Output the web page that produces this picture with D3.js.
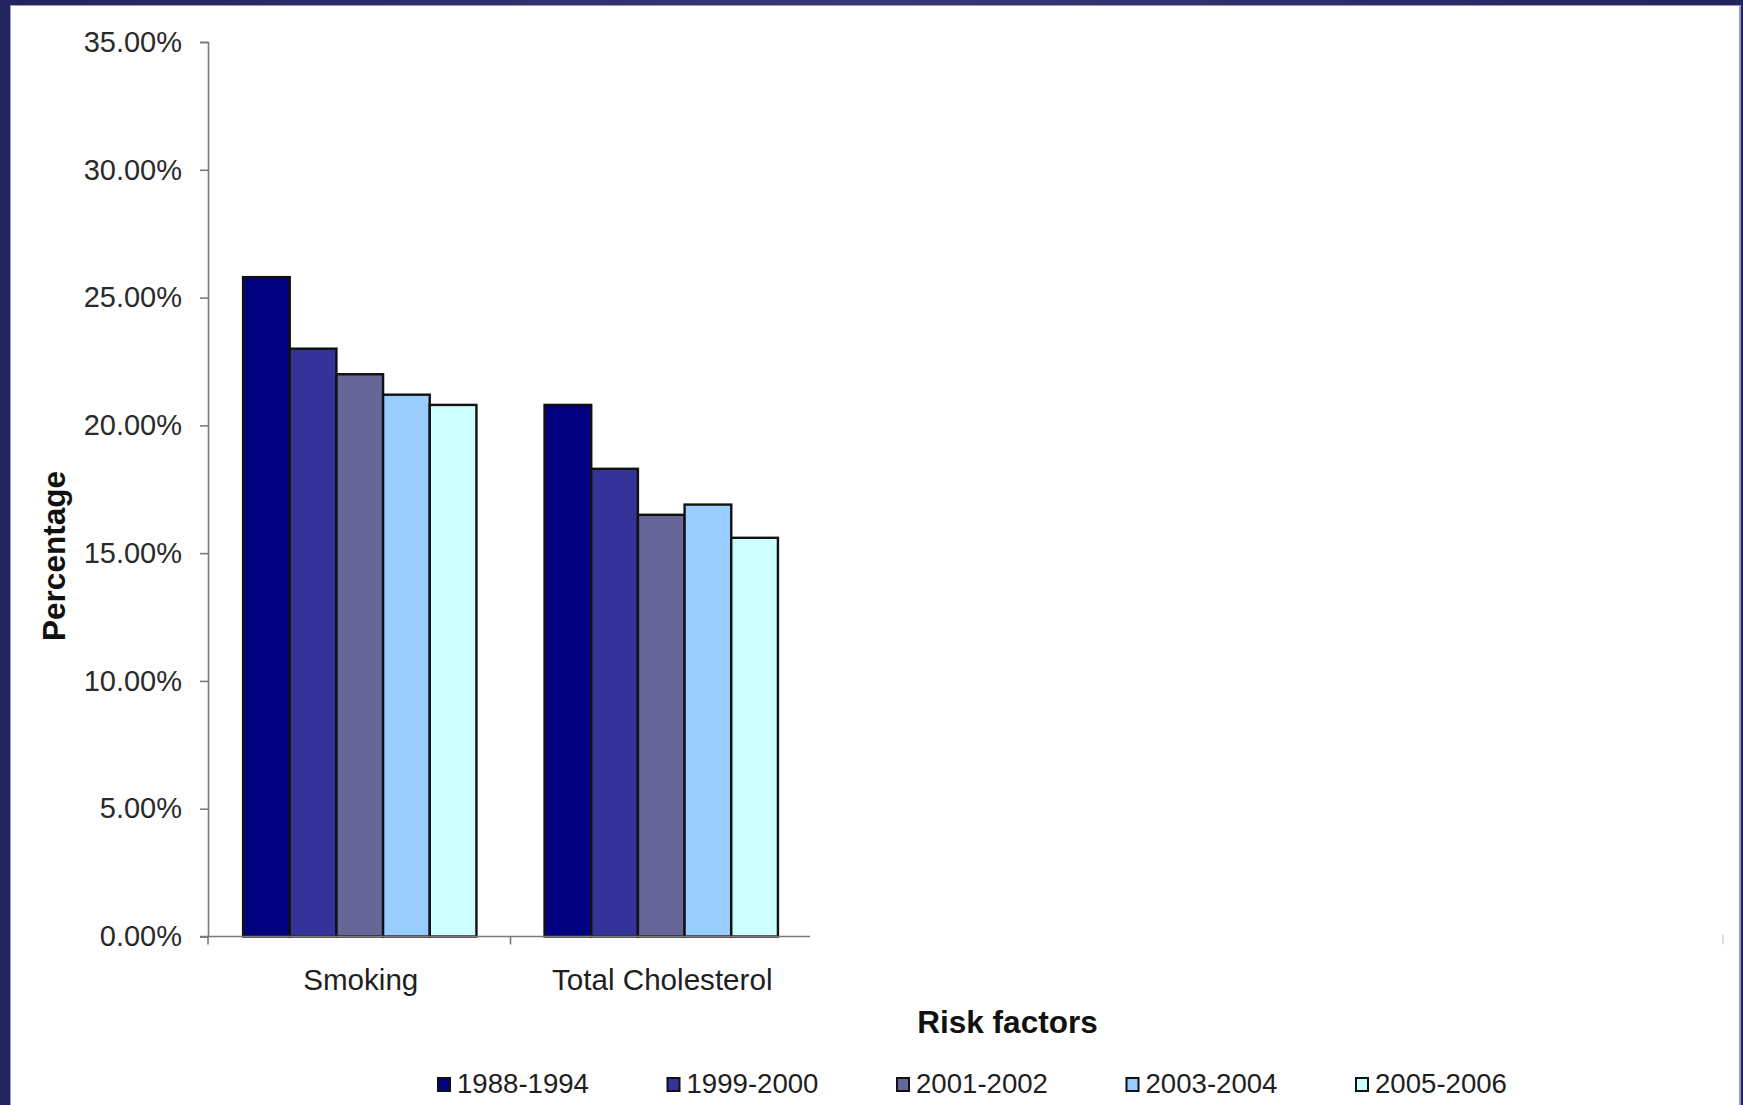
<!DOCTYPE html>
<html>
<head>
<meta charset="utf-8">
<title>Risk factors by period</title>
<script src="https://cdn.jsdelivr.net/npm/d3@7"></script>
<style>
  html, body { margin: 0; padding: 0; background: #ffffff; }
  svg { display: block; font-family: "Liberation Sans", Arial, sans-serif; }
</style>
</head>
<body>
<svg id="chart" width="1743" height="1105"></svg>
<script>
// Prevalence of risk factors (%) by survey period
const categories = ["Smoking", "Total Cholesterol"];
const periods = ["1988-1994", "1999-2000", "2001-2002", "2003-2004", "2005-2006"];
const smoking = [25.8, 23.0, 22.0, 21.2, 20.8];
const cholesterol = [20.8, 18.3, 16.5, 16.9, 15.6];
const yTicks = [0, 5, 10, 15, 20, 25, 30, 35];
const periodColors = ["#000080", "#333399", "#666699", "#99ccff", "#ccffff"];

const valuesByCategory = [smoking, cholesterol];
const rows = categories.map((c, i) => ({
  category: c,
  values: periods.map((p, j) => ({ period: p, value: valuesByCategory[i][j] }))
}));

const W = 1743, H = 1105;
const svg = d3.select("#chart");

// Slide frame: dark navy edges around a white panel
const defs = svg.append("defs");
const grad = defs.append("linearGradient").attr("id", "frameGrad")
  .attr("x1", "0").attr("y1", "0").attr("x2", "1").attr("y2", "0");
grad.append("stop").attr("offset", "0").attr("stop-color", "#23235f");
grad.append("stop").attr("offset", "0.5").attr("stop-color", "#35397a");
grad.append("stop").attr("offset", "1").attr("stop-color", "#22245e");
svg.append("rect").attr("x", 0).attr("y", 0).attr("width", W).attr("height", H)
  .attr("fill", "url(#frameGrad)");
svg.append("rect").attr("x", 10).attr("y", 5).attr("width", 1731).attr("height", H)
  .attr("fill", "#9a9ac6");
svg.append("rect").attr("x", 11).attr("y", 6).attr("width", 1728).attr("height", H)
  .attr("fill", "#ffffff");

// Plot geometry
const plot = { left: 208, right: 810, top: 42, bottom: 936.5 };

const y = d3.scaleLinear().domain([0, 35]).range([plot.bottom, plot.top]);
const x0 = d3.scaleBand().domain(categories).range([plot.left + 1, plot.right + 2])
  .paddingInner(0).paddingOuter(0);
const x1 = d3.scaleBand().domain(periods).range([0, x0.bandwidth()])
  .paddingInner(0).paddingOuter(0.73);
const color = d3.scaleOrdinal().domain(periods).range(periodColors);

// Y axis
const yAxis = d3.axisLeft(y)
  .tickValues(yTicks)
  .tickSize(8)
  .tickPadding(18)
  .tickFormat(d => d.toFixed(2) + "%");
const gy = svg.append("g").attr("transform", `translate(${plot.left},0)`).call(yAxis);
gy.select(".domain").attr("stroke", "#7a7a7a").attr("stroke-width", 1.6);
gy.selectAll(".tick line").attr("stroke", "#7a7a7a").attr("stroke-width", 1.6);
gy.selectAll(".tick text")
  .attr("fill", "#2a2a2a")
  .style("font-size", "29px")
  .style("font-family", "'Liberation Sans', Arial, sans-serif");

// Bars
const groups = svg.append("g").selectAll("g")
  .data(rows).join("g")
  .attr("transform", d => `translate(${x0(d.category)},0)`);
groups.selectAll("rect")
  .data(d => d.values).join("rect")
  .attr("x", d => x1(d.period))
  .attr("y", d => y(d.value))
  .attr("width", x1.bandwidth())
  .attr("height", d => y(0) - y(d.value))
  .attr("fill", d => color(d.period))
  .attr("stroke", "#111111")
  .attr("stroke-width", 2.4);

// X axis (category axis with crossing ticks at group boundaries)
const gx = svg.append("g");
gx.append("line")
  .attr("x1", plot.left - 8).attr("x2", plot.right)
  .attr("y1", y(0)).attr("y2", y(0))
  .attr("stroke", "#7a7a7a").attr("stroke-width", 1.6);
const boundaries = [plot.left, x0(categories[1])];
gx.selectAll("line.tick")
  .data(boundaries).join("line")
  .attr("class", "tick")
  .attr("x1", d => d).attr("x2", d => d)
  .attr("y1", y(0)).attr("y2", y(0) + 8)
  .attr("stroke", "#7a7a7a").attr("stroke-width", 1.6);
// far-right end tick of the category axis
gx.append("line")
  .attr("x1", 1723).attr("x2", 1723)
  .attr("y1", y(0) - 2).attr("y2", y(0) + 8)
  .attr("stroke", "#c8c8c8").attr("stroke-width", 1.2);

gx.selectAll("text")
  .data(categories).join("text")
  .attr("x", d => x0(d) + x0.bandwidth() / 2 + 1)
  .attr("y", 990)
  .attr("text-anchor", "middle")
  .attr("fill", "#1e1e1e")
  .style("font-size", "29.6px")
  .text(d => d);

// Axis titles
svg.append("text")
  .attr("transform", "translate(65,556) rotate(-90)")
  .attr("text-anchor", "middle")
  .attr("fill", "#111111")
  .style("font-size", "31.5px")
  .style("font-weight", "bold")
  .text("Percentage");

svg.append("text")
  .attr("x", 1007.5)
  .attr("y", 1033)
  .attr("text-anchor", "middle")
  .attr("fill", "#111111")
  .style("font-size", "31.5px")
  .style("font-weight", "bold")
  .text("Risk factors");

// Legend
const legendX = d3.scaleLinear().domain([0, periods.length - 1]).range([437, 437 + 229.5 * 4]);
const legend = svg.append("g").selectAll("g")
  .data(periods).join("g")
  .attr("transform", (d, i) => `translate(${legendX(i)},1078)`);
legend.append("rect")
  .attr("x", 1).attr("y", 0)
  .attr("width", 12).attr("height", 13)
  .attr("fill", d => color(d))
  .attr("stroke", "#111111")
  .attr("stroke-width", 2);
legend.append("text")
  .attr("x", 20)
  .attr("y", 15)
  .attr("fill", "#1e1e1e")
  .style("font-size", "27.6px")
  .text(d => d);
</script>
</body>
</html>
